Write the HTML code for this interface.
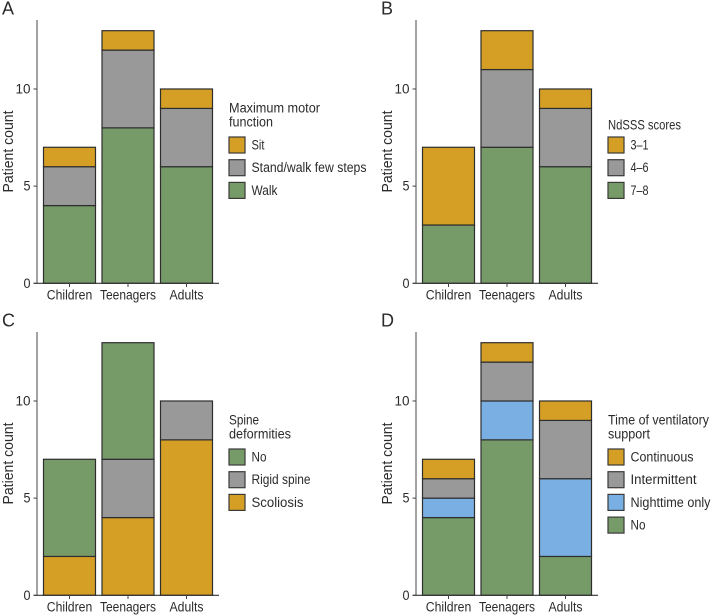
<!DOCTYPE html>
<html lang="en">
<head>
<meta charset="utf-8">
<title>Patient count by age group</title>
<style>
html,body{margin:0;padding:0;background:#fff;}
svg{display:block;}
text{font-family:"Liberation Sans",sans-serif;fill:#2b2b2b;font-size:13.5px;}
</style>
</head>
<body>
<svg id="chart" width="711" height="615" viewBox="0 0 711 615" xmlns="http://www.w3.org/2000/svg"></svg>
<script>
const categories = ['Children', 'Teenagers', 'Adults'];
const yTicks = [0, 5, 10];

const panelASeries = ['Walk', 'Stand/walk few steps', 'Sit'];
const panelAWalk = [4, 8, 6];
const panelAStand = [2, 4, 3];
const panelASit = [1, 1, 1];

const panelBSeries = ['7–8', '4–6', '3–1'];
const panelB78 = [3, 7, 6];
const panelB46 = [0, 4, 3];
const panelB31 = [4, 2, 1];

const panelCSeries = ['Scoliosis', 'Rigid spine', 'No'];
const panelCScoliosis = [2, 4, 8];
const panelCRigid = [0, 3, 2];
const panelCNo = [5, 6, 0];

const panelDSeries = ['No', 'Nighttime only', 'Intermittent', 'Continuous'];
const panelDNo = [4, 8, 2];
const panelDNight = [1, 2, 4];
const panelDIntermittent = [1, 2, 3];
const panelDContinuous = [1, 1, 1];

const GREEN = '#769b69', GREY = '#999999', GOLD = '#d49f24', BLUE = '#7aafe3';
const widths = {
  'Children': 45.5, 'Teenagers': 56, 'Adults': 34, 'Patient count': 82,
  'Maximum motor': 91, 'function': 44, 'Sit': 13, 'Stand/walk few steps': 115, 'Walk': 26,
  'NdSSS scores': 73, '3–1': 18, '4–6': 18, '7–8': 18,
  'Spine': 30, 'deformities': 62, 'No': 15, 'Rigid spine': 59, 'Scoliosis': 52,
  'Time of ventilatory': 101, 'support': 42, 'Continuous': 63, 'Intermittent': 66, 'Nighttime only': 80,
  '0': 7, '5': 7, '10': 15
};

const NS = 'http://www.w3.org/2000/svg';
const root = document.getElementById('chart');

function make(parent, tag, attrs) {
  const el = document.createElementNS(NS, tag);
  for (const k in attrs) el.setAttribute(k, attrs[k]);
  parent.appendChild(el);
  return el;
}
function label(parent, str, attrs, size) {
  const el = make(parent, 'text', attrs);
  el.textContent = str;
  if (widths[str]) {
    el.setAttribute('textLength', widths[str]);
    el.setAttribute('lengthAdjust', 'spacingAndGlyphs');
  }
  if (size) el.style.fontSize = size + 'px';
  return el;
}

const plotHeight = 263.3;
const yMax = 13.55;
const xBand = 58.5;

function drawPanel(cfg) {
  const g = make(root, 'g', { transform: 'translate(' + cfg.dx + ',' + cfg.dy + ')' });
  
  

  const yScale = function (v) { return 283.3 - v / yMax * plotHeight; };
  const xScale = function (i) { return 69.5 + i * xBand; };

  const letter = label(g, cfg.letter, { x: 2, y: 14.5 }, 18);
  
  

  const bars = make(g, 'g', {});
  
  
  categories.forEach(function (cat, i) {
    let running = 0;
    cfg.series.forEach(function (name, s) {
      const v = cfg.values[s][i];
      if (v <= 0) return;
      const top = yScale(running + v), bottom = yScale(running);
      const bar = make(bars, 'rect', {
        x: xScale(i) - 26, y: top, width: 52, height: bottom - top,
        fill: cfg.colors[s], stroke: '#2e2e2e', 'stroke-width': 1.2
      });
      
      
      running += v;
    });
  });

  const yAxis = make(g, 'line', { x1: 37, x2: 37, y1: 20, y2: 283.3, stroke: '#666', 'stroke-width': 1.2 });
  
  
  const xAxis = make(g, 'line', { x1: 33.5, x2: 219, y1: 283.3, y2: 283.3, stroke: '#333', 'stroke-width': 1.2 });
  
  

  yTicks.forEach(function (t) {
    const tick = make(g, 'line', { x1: 33.5, x2: 37, y1: yScale(t), y2: yScale(t), stroke: '#444', 'stroke-width': 1 });
    
    
    const tl = label(g, String(t), { x: 30.5, y: yScale(t) + 4.6, 'text-anchor': 'end' });
    
    
  });
  categories.forEach(function (cat, i) {
    const x = xScale(i);
    const tick = make(g, 'line', { x1: x, x2: x, y1: 283.3, y2: 287, stroke: '#444', 'stroke-width': 1 });
    
    
    const tl = label(g, cat, { x: x, y: 299.5, 'text-anchor': 'middle' });
    
    
  });

  const yTitle = label(g, 'Patient count', {
    x: 0, y: 0, 'text-anchor': 'middle', transform: 'translate(13,151.5) rotate(-90)'
  }, 14.5);
  
  

  const legend = make(g, 'g', {});
  
  
  cfg.title.forEach(function (line, i) {
    const startY = cfg.title.length === 1 ? 129.5 : 112.5;
    const lt = label(legend, line, { x: 229, y: startY + i * 14 });
    
    
  });
  const order = cfg.series.map(function (n, s) { return s; }).reverse();
  order.forEach(function (s, row) {
    const top = 137 + row * 22.7;
    const sw = make(legend, 'rect', {
      x: 229, y: top, width: 16, height: 16, fill: cfg.colors[s], stroke: '#3a3a3a', 'stroke-width': 1.2
    });
    
    
    const lb = label(legend, cfg.series[s], { x: 251.5, y: top + 12.5 });
    
    
  });
}

drawPanel({
  letter: 'A', dx: 0, dy: 0,
  series: panelASeries,
  values: [panelAWalk, panelAStand, panelASit],
  colors: [GREEN, GREY, GOLD],
  title: ['Maximum motor', 'function']
});
drawPanel({
  letter: 'B', dx: 379, dy: 0,
  series: panelBSeries,
  values: [panelB78, panelB46, panelB31],
  colors: [GREEN, GREY, GOLD],
  title: ['NdSSS scores']
});
drawPanel({
  letter: 'C', dx: 0, dy: 312,
  series: panelCSeries,
  values: [panelCScoliosis, panelCRigid, panelCNo],
  colors: [GOLD, GREY, GREEN],
  title: ['Spine', 'deformities']
});
drawPanel({
  letter: 'D', dx: 379, dy: 312,
  series: panelDSeries,
  values: [panelDNo, panelDNight, panelDIntermittent, panelDContinuous],
  colors: [GREEN, BLUE, GREY, GOLD],
  title: ['Time of ventilatory', 'support']
});
</script>
</body>
</html>
